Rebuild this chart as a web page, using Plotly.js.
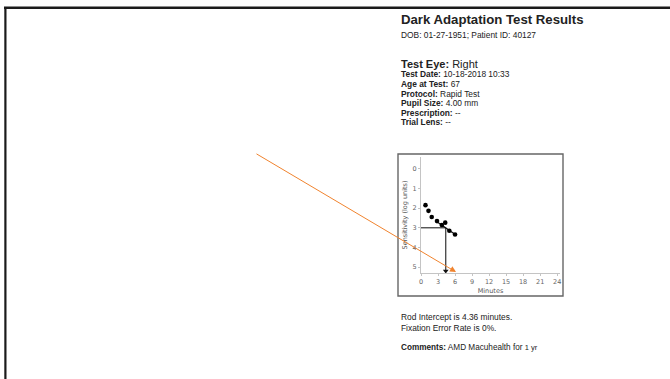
<!DOCTYPE html>
<html>
<head>
<meta charset="utf-8">
<script src="https://cdn.plot.ly/plotly-3.0.1.min.js"></script>
<style>html,body{margin:0;padding:0;background:#fff;}#chart{width:670px;height:379px;}</style>
</head>
<body>
<div id="chart"></div>
<script>
// ---- data ----
const minutes = [0.79, 1.32, 1.89, 2.82, 3.67, 4.27, 4.99, 6.0];
const sensitivity = [1.85, 2.14, 2.45, 2.66, 2.86, 2.74, 3.15, 3.34];
const fitMinutes = [2.8, 6.1];
const fitSensitivity = [2.69, 3.35];
const rodIntercept = 4.36;
const criterion = 3.0;
const arrowEnd = 5.2;
const xTicks = [0, 3, 6, 9, 12, 15, 18, 21, 24];
const yTicks = [0, 1, 2, 3, 4, 5];

const W = 670, H = 379;
const px = x => x / W;
const py = y => 1 - y / H;
const FONT = 'Liberation Sans, Arial, sans-serif';
const PLOTFONT = 'DejaVu Sans, sans-serif';

const traces = [
  {x: [0, rodIntercept], y: [criterion, criterion], mode: 'lines',
   line: {color: '#333', width: 1.2}, hoverinfo: 'skip'},
  {x: [rodIntercept, rodIntercept], y: [criterion, arrowEnd], mode: 'lines',
   line: {color: '#333', width: 1.2}, hoverinfo: 'skip'},
  {x: [rodIntercept], y: [arrowEnd], mode: 'markers',
   marker: {symbol: 'triangle-down', size: 5, color: '#111'}, hoverinfo: 'skip'},
  {x: fitMinutes, y: fitSensitivity, mode: 'lines',
   line: {color: '#111', width: 1.3}, hoverinfo: 'skip'},
  {x: minutes, y: sensitivity, mode: 'markers',
   marker: {color: '#000', size: 4.6}}
];

function txt(x, y, text, size, extra) {
  return Object.assign({xref: 'paper', yref: 'paper', x: px(x), y: py(y), text: text,
    showarrow: false, xanchor: 'left', yanchor: 'middle',
    font: {family: FONT, size: size, color: '#222'}}, extra || {});
}

const annotations = [
  txt(399, 20, '<b>Dark Adaptation Test Results</b>', 13.2),
  txt(399, 35, 'DOB: 01-27-1951; Patient ID: 40127', 8.4),
  txt(399, 64, '<b>Test Eye:</b> Right', 11),
  txt(399, 74, '<b>Test Date:</b> 10-18-2018 10:33', 8.4),
  txt(399, 84, '<b>Age at Test:</b> 67', 8.4),
  txt(399, 94, '<b>Protocol:</b> Rapid Test', 8.4),
  txt(399, 103, '<b>Pupil Size:</b> 4.00 mm', 8.4),
  txt(399, 113, '<b>Prescription:</b> --', 8.4),
  txt(399, 122, '<b>Trial Lens:</b> --', 8.4),
  txt(399, 317, 'Rod Intercept is 4.36 minutes.', 8.4),
  txt(399, 328, 'Fixation Error Rate is 0%.', 8.4),
  txt(399, 347, '<b>Comments:</b> AMD Macuhealth for <span style="font-size:7.5px">1 yr</span>', 8.2),
  {xref: 'paper', yref: 'paper', x: px(456), y: py(272), ax: 255 - 456, ay: 153 - 272,
   axref: 'pixel', ayref: 'pixel', text: '', showarrow: true,
   arrowhead: 2, arrowsize: 1.2, arrowwidth: 1, arrowcolor: '#F0832E', standoff: 0}
];

const shapes = [
  {type: 'line', xref: 'paper', yref: 'paper', x0: px(4), x1: px(670), y0: py(7.8), y1: py(7.8),
   line: {color: '#1b1b1b', width: 2.6}},
  {type: 'line', xref: 'paper', yref: 'paper', x0: px(5.4), x1: px(5.4), y0: py(7), y1: py(379),
   line: {color: '#1b1b1b', width: 2.2}},
  {type: 'rect', xref: 'paper', yref: 'paper', x0: px(398), x1: px(563), y0: py(154), y1: py(296),
   line: {color: '#666', width: 1.4}}
];

const layout = {
  width: W, height: H,
  margin: {l: 0, r: 0, t: 0, b: 0},
  paper_bgcolor: '#fff', plot_bgcolor: '#fff',
  showlegend: false,
  xaxis: {
    domain: [px(421), px(560)], range: [0, 24.5],
    tickvals: xTicks, ticktext: xTicks.map(String),
    showgrid: false, zeroline: false, showline: true, linecolor: '#c4c4c4', linewidth: 1,
    ticks: 'outside', ticklen: 2, tickcolor: '#c4c4c4',
    tickfont: {family: PLOTFONT, size: 6.5, color: '#666'},
    title: {text: 'Minutes', font: {family: PLOTFONT, size: 6.5, color: '#555'}, standoff: 3}
  },
  yaxis: {
    domain: [py(273), py(157)], range: [5.3, -0.6],
    tickvals: yTicks, ticktext: yTicks.map(String),
    showgrid: false, zeroline: false, showline: true, linecolor: '#c4c4c4', linewidth: 1,
    ticks: 'outside', ticklen: 2, tickcolor: '#c4c4c4',
    tickfont: {family: PLOTFONT, size: 6.5, color: '#666'},
    title: {text: 'Sensitivity (log units)', font: {family: PLOTFONT, size: 6.5, color: '#555'}, standoff: 4}
  },
  annotations: annotations,
  shapes: shapes
};

Plotly.newPlot('chart', traces, layout, {displayModeBar: false, staticPlot: true});
</script>
</body>
</html>
